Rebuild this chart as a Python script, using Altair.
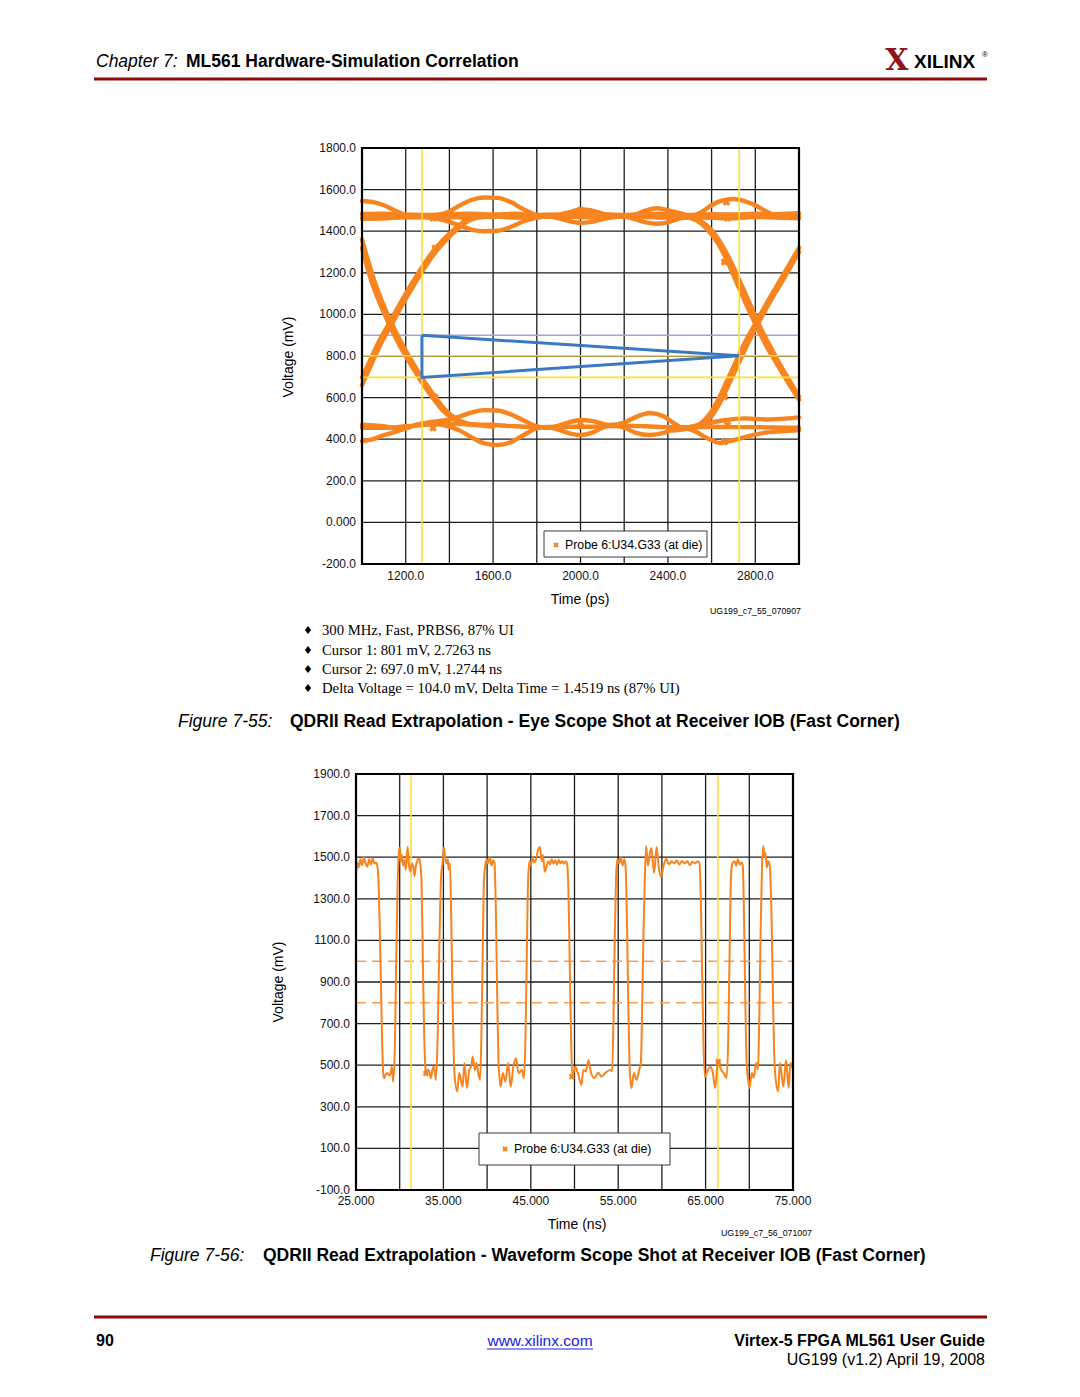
import altair as alt
import pandas as pd

FONT = "Liberation Sans"
SERIF = "Liberation Serif"
ORANGE = "#F7841F"
YELLOW = "#FFE02A"
BLUE = "#3B78C3"
LAVENDER = "#A3A3D6"
GRID = "#1E1E1E"
MAROON = "#8E1318"

# ---------------- Figure 7-55 : eye diagram ----------------
eye_x_ticks = [1200, 1600, 2000, 2400, 2800]
eye_x_labels = ["1200.0", "1600.0", "2000.0", "2400.0", "2800.0"]
eye_y_ticks = [-200, 0, 200, 400, 600, 800, 1000, 1200, 1400, 1600, 1800]
eye_y_labels = ["-200.0", "0.000", "200.0", "400.0", "600.0", "800.0",
                "1000.0", "1200.0", "1400.0", "1600.0", "1800.0"]
eye_grid_t = [1000, 1200, 1400, 1600, 1800, 2000, 2200, 2400, 2600, 2800, 3000]
eye_grid_v = [-200, 0, 200, 400, 600, 800, 1000, 1200, 1400, 1600, 1800]

eye_cursor_t = [1274.4, 2726.3]          # Cursor 2, Cursor 1 (ps)
eye_cursor_v = [697.0, 801.0]            # Cursor 2, Cursor 1 (mV)
eye_ref_v = [900.0]
eye_mask_t = [1274.4, 1274.4, 2726.3, 1274.4]
eye_mask_v = [900.0, 697.0, 801.0, 900.0]

# high-level traces
ha_t = [1000, 1050, 1100, 1150, 1200, 1250, 1300, 1350, 1400, 1450, 1500, 1560, 1620, 1680, 1740,
        1800, 1850, 1900, 1950, 2000, 2050, 2100, 2150, 2200, 2250, 2300, 2350, 2400, 2450, 2500,
        2550, 2600, 2650, 2700, 2750, 2800, 2850, 2900, 2950, 3000]
ha_v = [1545, 1540, 1525, 1500, 1478, 1468, 1470, 1478, 1495, 1525, 1550, 1562, 1560, 1540, 1505,
        1478, 1470, 1478, 1492, 1505, 1500, 1485, 1475, 1470, 1480, 1500, 1510, 1500, 1480, 1472,
        1490, 1525, 1548, 1555, 1545, 1525, 1495, 1475, 1470, 1470]
hb_t = [1000, 1100, 1200, 1300, 1400, 1500, 1600, 1700, 1800, 1900, 2000, 2100, 2200, 2300, 2400,
        2500, 2600, 2700, 2800, 2900, 3000]
hb_v = [1462, 1465, 1468, 1470, 1468, 1466, 1470, 1466, 1468, 1470, 1468, 1466, 1470, 1468, 1466,
        1468, 1466, 1468, 1468, 1466, 1462]
hb2_v = [1482, 1484, 1480, 1478, 1482, 1484, 1480, 1484, 1478, 1480, 1486, 1482, 1478, 1484, 1482,
         1478, 1482, 1480, 1484, 1482, 1486]
hc_t = [1000, 1100, 1200, 1300, 1400, 1450, 1500, 1560, 1620, 1680, 1740, 1800, 1850, 1900, 1950,
        2000, 2050, 2100, 2150, 2200, 2250, 2300, 2350, 2400, 2450, 2500, 2600, 2700, 2800, 2900, 3000]
hc_v = [1460, 1462, 1468, 1466, 1445, 1425, 1408, 1400, 1402, 1420, 1448, 1465, 1470, 1462, 1448,
        1440, 1445, 1458, 1468, 1470, 1458, 1442, 1436, 1442, 1460, 1468, 1465, 1462, 1470, 1468, 1465]
# falling / rising edges on the right
fr1_t = [2400, 2480, 2530, 2580, 2630, 2670, 2720, 2760, 2800, 2850, 2900, 2950, 3000]
fr1_v = [1470, 1468, 1452, 1410, 1340, 1260, 1140, 1045, 955, 850, 760, 672, 590]
fr2_t = [2400, 2500, 2550, 2600, 2650, 2690, 2740, 2780, 2815, 2860, 2910, 2960, 3000]
fr2_v = [1500, 1472, 1450, 1405, 1330, 1250, 1135, 1040, 955, 862, 765, 676, 605]
rr1_t = [2400, 2500, 2540, 2590, 2630, 2670, 2710, 2750, 2800, 2850, 2900, 2950, 3000]
rr1_v = [458, 458, 470, 520, 590, 680, 770, 860, 955, 1050, 1140, 1230, 1320]
rr2_t = [2400, 2510, 2555, 2605, 2645, 2685, 2725, 2765, 2812, 2862, 2912, 2962, 3000]
rr2_v = [440, 455, 468, 518, 588, 678, 768, 858, 955, 1050, 1140, 1230, 1300]
# rising / falling edges on the left
rl1_t = [1000, 1033, 1073, 1123, 1173, 1223, 1273, 1323, 1373, 1423, 1473, 1523, 1600]
rl1_v = [696, 770, 860, 955, 1050, 1140, 1225, 1300, 1360, 1410, 1450, 1468, 1470]
rl2_t = [1000, 1047, 1087, 1137, 1187, 1237, 1287, 1337, 1387, 1437, 1487, 1537, 1600]
rl2_v = [660, 770, 860, 955, 1050, 1140, 1225, 1300, 1360, 1410, 1450, 1468, 1480]
fl1_t = [1000, 1043, 1083, 1123, 1173, 1223, 1273, 1323, 1373, 1423, 1473, 1523, 1600]
fl1_v = [1320, 1160, 1050, 955, 850, 760, 675, 600, 535, 495, 475, 468, 470]
fl2_t = [1000, 1057, 1097, 1137, 1187, 1237, 1287, 1337, 1387, 1437, 1487, 1537, 1600]
fl2_v = [1360, 1160, 1050, 955, 850, 760, 675, 600, 535, 495, 475, 468, 460]
# low-level traces
la_t = [1000, 1100, 1174, 1250, 1300, 1400, 1450, 1500, 1560, 1620, 1680, 1740, 1800, 1850, 1900,
        1950, 2000, 2050, 2100, 2134, 2200, 2250, 2317, 2380, 2430, 2467, 2550, 2650, 2750, 2850,
        2950, 3000]
la_v = [470, 462, 450, 468, 480, 495, 510, 528, 540, 538, 520, 490, 462, 455, 465,
        482, 492, 488, 475, 468, 480, 505, 526, 510, 475, 455, 470, 490, 500, 495,
        500, 505]
lb_t = [1000, 1100, 1200, 1300, 1400, 1500, 1600, 1700, 1800, 1900, 2000, 2100, 2200, 2300, 2400,
        2500, 2600, 2700, 2800, 2900, 3000]
lb_v = [455, 455, 462, 470, 475, 470, 468, 462, 458, 460, 460, 462, 465, 462, 458,
        456, 460, 458, 458, 456, 455]
lc_t = [1000, 1050, 1100, 1174, 1250, 1300, 1400, 1450, 1500, 1560, 1620, 1680, 1740, 1800, 1850,
        1900, 1950, 2000, 2050, 2100, 2134, 2200, 2250, 2317, 2380, 2430, 2467, 2520, 2580, 2638,
        2700, 2788, 2850, 2950, 3000]
lc_v = [390, 400, 420, 442, 470, 478, 460, 440, 410, 380, 372, 385, 420, 452, 458,
        445, 428, 420, 430, 455, 468, 455, 432, 420, 430, 450, 455, 440, 405, 382,
        395, 420, 432, 440, 444]

eye_mark_t = [1325, 1334, 2000, 2668, 2673, 2659, 2000, 2659, 2673, 2659, 1325, 1334]
eye_mark_v = [1463, 1319, 1502, 1540, 1463, 1252, 478, 387, 468, 603, 454, 603]

# ---------------- Figure 7-56 : waveform ----------------
wave_x_ticks = [25, 35, 45, 55, 65, 75]
wave_x_labels = ["25.000", "35.000", "45.000", "55.000", "65.000", "75.000"]
wave_y_ticks = [-100, 100, 300, 500, 700, 900, 1100, 1300, 1500, 1700, 1900]
wave_y_labels = ["-100.0", "100.0", "300.0", "500.0", "700.0", "900.0",
                 "1100.0", "1300.0", "1500.0", "1700.0", "1900.0"]
wave_grid_t = [25, 30, 35, 40, 45, 50, 55, 60, 65, 70, 75]
wave_grid_v = [-100, 100, 300, 500, 700, 900, 1100, 1300, 1500, 1700, 1900]
wave_cursor_t = [31.3, 66.4]
wave_thresh_v = [800, 1000]
wave_points = [
    (25.0, 1410), (25.15, 1475), (25.3, 1450), (25.5, 1490), (25.7, 1462), (25.9, 1500),
    (26.1, 1470), (26.3, 1455), (26.5, 1490), (26.7, 1465), (26.9, 1495), (27.1, 1470), (27.3, 1475),
    (27.5, 1440), (27.7, 1200), (27.85, 900), (28.0, 600), (28.1, 470),
    (28.2, 437), (28.4, 455), (28.6, 462), (28.8, 450), (29.0, 470), (29.1, 493), (29.25, 421),
    (29.45, 600), (29.6, 1000), (29.75, 1350), (29.9, 1520),
    (30.0, 1545), (30.1, 1480), (30.25, 1510), (30.4, 1460), (30.55, 1485), (30.7, 1440), (30.9, 1550),
    (31.05, 1470), (31.2, 1430), (31.4, 1470), (31.55, 1455), (31.7, 1410), (31.85, 1460), (32.0, 1480),
    (32.2, 1495), (32.35, 1470),
    (32.5, 1380), (32.65, 1000), (32.8, 650), (32.95, 480),
    (33.0, 462), (33.2, 478), (33.4, 470), (33.55, 437), (33.75, 480), (33.9, 493), (34.05, 460), (34.15, 429),
    (34.35, 650), (34.55, 1100), (34.75, 1420),
    (34.9, 1470), (35.05, 1545), (35.2, 1500), (35.35, 1470), (35.5, 1490), (35.6, 1440), (35.75, 1470),
    (35.9, 1200), (36.05, 800), (36.2, 520),
    (36.35, 420), (36.6, 374), (36.8, 462), (37.0, 430), (37.2, 397), (37.4, 510), (37.7, 390), (37.95, 477),
    (38.2, 500), (38.35, 542), (38.6, 477), (38.8, 510), (39.0, 460), (39.2, 429),
    (39.35, 650), (39.5, 1050), (39.65, 1400),
    (39.8, 1465), (39.95, 1490), (40.1, 1470), (40.3, 1500), (40.5, 1460), (40.7, 1485), (40.85, 1470),
    (41.0, 1250), (41.15, 850), (41.3, 520),
    (41.45, 430), (41.55, 397), (41.8, 462), (42.1, 421), (42.4, 510), (42.7, 397), (43.0, 493),
    (43.3, 534), (43.6, 462), (44.0, 477), (44.2, 437),
    (44.4, 650), (44.55, 1050), (44.7, 1400),
    (44.85, 1480), (45.0, 1460), (45.2, 1500), (45.4, 1475), (45.6, 1490), (45.8, 1530), (46.05, 1549),
    (46.25, 1480), (46.4, 1510), (46.6, 1430), (46.8, 1455), (47.0, 1480), (47.2, 1465), (47.4, 1490),
    (47.6, 1470), (47.8, 1485), (48.0, 1465), (48.2, 1488), (48.4, 1470), (48.6, 1482), (48.8, 1468),
    (49.0, 1480), (49.15, 1470),
    (49.3, 1350), (49.45, 1000), (49.6, 650),
    (49.75, 445), (50.1, 493), (50.4, 460), (50.8, 405), (51.0, 477), (51.3, 470), (51.6, 525), (51.9, 462),
    (52.3, 438), (52.7, 464), (53.1, 445), (53.5, 462), (54.1, 477), (54.3, 470),
    (54.45, 700), (54.6, 1100), (54.75, 1400),
    (54.9, 1490), (55.1, 1470), (55.3, 1500), (55.5, 1460), (55.7, 1490), (55.85, 1448),
    (56.0, 1200), (56.15, 800), (56.3, 500),
    (56.5, 390), (56.8, 462), (57.1, 430), (57.35, 470), (57.6, 517),
    (57.75, 800), (57.9, 1150), (58.05, 1400),
    (58.2, 1554), (58.4, 1460), (58.55, 1500), (58.8, 1544), (59.1, 1424), (59.4, 1549), (59.65, 1450),
    (59.9, 1406), (60.2, 1460), (60.5, 1493), (60.8, 1465), (61.1, 1480), (61.4, 1470), (61.7, 1485),
    (62.0, 1465), (62.3, 1482), (62.6, 1470), (62.9, 1480), (63.2, 1462), (63.5, 1478), (63.8, 1470),
    (64.1, 1480), (64.3, 1470),
    (64.45, 1300), (64.6, 950), (64.75, 620),
    (64.9, 445), (65.2, 470), (65.5, 493), (65.8, 470), (66.1, 390), (66.4, 517), (66.8, 477), (67.1, 460),
    (67.4, 438),
    (67.6, 650), (67.75, 1050), (67.9, 1400),
    (68.05, 1470), (68.3, 1480), (68.5, 1460), (68.7, 1490), (68.9, 1465), (69.1, 1475), (69.25, 1460),
    (69.4, 1200), (69.55, 800), (69.7, 500),
    (69.9, 420), (70.0, 390), (70.3, 462), (70.5, 440), (70.8, 510), (71.0, 478),
    (71.15, 750), (71.3, 1150), (71.45, 1450),
    (71.6, 1554), (71.75, 1500), (71.85, 1520), (72.0, 1450), (72.15, 1480), (72.3, 1470), (72.4, 1420),
    (72.55, 1200), (72.7, 850), (72.85, 550),
    (73.0, 440), (73.3, 374), (73.5, 510), (73.9, 397), (74.2, 525), (74.5, 390), (74.7, 510), (75.0, 478),
]
wave_mark_t = [33.0, 49.7, 66.45]
wave_mark_v = [461, 445, 517]

# ---------------- build tables ----------------
eye_traces = {
    "ha": (ha_t, ha_v), "hb": (hb_t, hb_v), "hb2": (hb_t, hb2_v), "hc": (hc_t, hc_v),
    "fr1": (fr1_t, fr1_v), "fr2": (fr2_t, fr2_v), "rr1": (rr1_t, rr1_v), "rr2": (rr2_t, rr2_v),
    "rl1": (rl1_t, rl1_v), "rl2": (rl2_t, rl2_v), "fl1": (fl1_t, fl1_v), "fl2": (fl2_t, fl2_v),
    "la": (la_t, la_v), "lb": (lb_t, lb_v), "lc": (lc_t, lc_v),
}
rows = []
for name, (ts, vs) in eye_traces.items():
    for i, (t, v) in enumerate(zip(ts, vs)):
        rows.append({"trace": name, "i": i, "t": t, "v": v})
eye_df = pd.DataFrame(rows)
wave_df = pd.DataFrame([{"i": i, "t": t, "v": v} for i, (t, v) in enumerate(wave_points)])
dummy = pd.DataFrame({"d": [0]})

# plot areas (pixels inside the page, page margin of 8 removed)
eye_xs = alt.Scale(domain=[1000, 3000], range=[354, 791])
eye_ys = alt.Scale(domain=[-200, 1800], range=[556, 140])
wave_xs = alt.Scale(domain=[25, 75], range=[348, 785])
wave_ys = alt.Scale(domain=[-100, 1900], range=[1182, 766])


def text(s, x, y, size=12, font=FONT, weight="normal", style="normal", align="left",
         color="black", angle=0, baseline="middle"):
    return alt.Chart(dummy).mark_text(
        text=s, fontSize=size, font=font, fontWeight=weight, fontStyle=style,
        align=align, baseline=baseline, color=color, angle=angle
    ).encode(x=alt.value(x), y=alt.value(y))


def hrule(x, x2, y, color, width):
    return alt.Chart(dummy).mark_rule(color=color, strokeWidth=width).encode(
        x=alt.value(x), x2=alt.value(x2), y=alt.value(y))


def box(x, x2, y, y2):
    return alt.Chart(dummy).mark_rect(fill="white", stroke="#3a3a3a", strokeWidth=1).encode(
        x=alt.value(x), x2=alt.value(x2), y=alt.value(y), y2=alt.value(y2))


def legend_cross(x, y):
    return alt.Chart(dummy).mark_point(shape="cross", angle=45, filled=True, size=30,
                                       color=ORANGE, opacity=1).encode(
        x=alt.value(x), y=alt.value(y))


def plot_layers(xs, ys, grid_t, grid_v, x0, x1, y0, y1, xticks, xlabels, yticks, ylabels,
                ylab_x, xlab_y):
    vgrid = alt.Chart(pd.DataFrame({"g": grid_t})).mark_rule(color=GRID, strokeWidth=1.3).encode(
        x=alt.X("g:Q", scale=xs, axis=None),
        y=alt.YDatum(y0, scale=ys, axis=None), y2=alt.Y2Datum(y1))
    hgrid = alt.Chart(pd.DataFrame({"g": grid_v})).mark_rule(color=GRID, strokeWidth=1.3).encode(
        y=alt.Y("g:Q", scale=ys, axis=None),
        x=alt.XDatum(x0, scale=xs, axis=None), x2=alt.X2Datum(x1))
    frame = alt.Chart(dummy).mark_rect(filled=False, stroke="black", strokeWidth=2.2).encode(
        x=alt.XDatum(x0, scale=xs, axis=None), x2=alt.X2Datum(x1),
        y=alt.YDatum(y0, scale=ys, axis=None), y2=alt.Y2Datum(y1))
    xl = alt.Chart(pd.DataFrame({"tick": xticks, "label": xlabels})).mark_text(
        font=FONT, fontSize=12, baseline="middle", align="center", color="#111").encode(
        x=alt.X("tick:Q", scale=xs, axis=None), y=alt.value(xlab_y), text="label:N")
    yl = alt.Chart(pd.DataFrame({"tick": yticks, "label": ylabels})).mark_text(
        font=FONT, fontSize=12, baseline="middle", align="right", color="#111").encode(
        y=alt.Y("tick:Q", scale=ys, axis=None), x=alt.value(ylab_x), text="label:N")
    return vgrid, hgrid, frame, xl, yl


# ---------------- eye layer ----------------
e_vgrid, e_hgrid, e_frame, e_xl, e_yl = plot_layers(
    eye_xs, eye_ys, eye_grid_t, eye_grid_v, 1000, 3000, -200, 1800,
    eye_x_ticks, eye_x_labels, eye_y_ticks, eye_y_labels, 348, 568)

e_ref = alt.Chart(pd.DataFrame({"v": eye_ref_v})).mark_rule(color=LAVENDER, strokeWidth=1.6).encode(
    y=alt.Y("v:Q", scale=eye_ys, axis=None),
    x=alt.XDatum(1000, scale=eye_xs, axis=None), x2=alt.X2Datum(3000))
e_lines = alt.Chart(eye_df).mark_line(color=ORANGE, strokeWidth=4.4, interpolate="monotone",
                                      strokeCap="round", strokeJoin="round").encode(
    x=alt.X("t:Q", scale=eye_xs, axis=None), y=alt.Y("v:Q", scale=eye_ys, axis=None),
    detail="trace:N", order="i:Q")
e_marks = alt.Chart(pd.DataFrame({"t": eye_mark_t, "v": eye_mark_v})).mark_point(
    shape="cross", angle=45, filled=True, size=60, color=ORANGE, opacity=1).encode(
    x=alt.X("t:Q", scale=eye_xs, axis=None), y=alt.Y("v:Q", scale=eye_ys, axis=None))
e_cur_v = alt.Chart(pd.DataFrame({"t": eye_cursor_t})).mark_rule(color=YELLOW, strokeWidth=1.6).encode(
    x=alt.X("t:Q", scale=eye_xs, axis=None),
    y=alt.YDatum(-200, scale=eye_ys, axis=None), y2=alt.Y2Datum(1800))
e_cur_h = alt.Chart(pd.DataFrame({"v": eye_cursor_v})).mark_rule(color=YELLOW, strokeWidth=1.6).encode(
    y=alt.Y("v:Q", scale=eye_ys, axis=None),
    x=alt.XDatum(1000, scale=eye_xs, axis=None), x2=alt.X2Datum(3000))
e_mask = alt.Chart(pd.DataFrame({"i": [0, 1, 2, 3], "t": eye_mask_t, "v": eye_mask_v})).mark_line(
    color=BLUE, strokeWidth=3, strokeJoin="miter").encode(
    x=alt.X("t:Q", scale=eye_xs, axis=None), y=alt.Y("v:Q", scale=eye_ys, axis=None), order="i:Q")

eye_layer = alt.layer(
    e_vgrid, e_hgrid, e_ref, e_lines, e_marks, e_cur_v, e_cur_h, e_mask, e_frame, e_xl, e_yl,
    box(536, 699, 523, 549), legend_cross(548, 537),
    text("Probe 6:U34.G33 (at die)", 557, 537, size=12.3),
    text("Voltage (mV)", 281, 349, size=14, angle=270, align="center"),
    text("Time (ps)", 572, 592, size=14, align="center"),
    text("UG199_c7_55_070907", 793, 603, size=8.8, align="right"),
)

# ---------------- waveform layer ----------------
w_vgrid, w_hgrid, w_frame, w_xl, w_yl = plot_layers(
    wave_xs, wave_ys, wave_grid_t, wave_grid_v, 25, 75, -100, 1900,
    wave_x_ticks, wave_x_labels, wave_y_ticks, wave_y_labels, 342, 1193)

w_thresh = alt.Chart(pd.DataFrame({"v": wave_thresh_v})).mark_rule(
    color="#F7A055", strokeWidth=1.5, strokeDash=[10, 6]).encode(
    y=alt.Y("v:Q", scale=wave_ys, axis=None),
    x=alt.XDatum(25, scale=wave_xs, axis=None), x2=alt.X2Datum(75))
w_cur = alt.Chart(pd.DataFrame({"t": wave_cursor_t})).mark_rule(color=YELLOW, strokeWidth=1.6).encode(
    x=alt.X("t:Q", scale=wave_xs, axis=None),
    y=alt.YDatum(-100, scale=wave_ys, axis=None), y2=alt.Y2Datum(1900))
w_line = alt.Chart(wave_df).mark_line(color=ORANGE, strokeWidth=2, interpolate="monotone").encode(
    x=alt.X("t:Q", scale=wave_xs, axis=None), y=alt.Y("v:Q", scale=wave_ys, axis=None), order="i:Q")
w_marks = alt.Chart(pd.DataFrame({"t": wave_mark_t, "v": wave_mark_v})).mark_point(
    shape="cross", angle=45, filled=True, size=40, color=ORANGE, opacity=1).encode(
    x=alt.X("t:Q", scale=wave_xs, axis=None), y=alt.Y("v:Q", scale=wave_ys, axis=None))

wave_layer = alt.layer(
    w_vgrid, w_hgrid, w_thresh, w_cur, w_line, w_marks, w_frame, w_xl, w_yl,
    box(471, 662, 1125, 1157), legend_cross(497, 1141),
    text("Probe 6:U34.G33 (at die)", 506, 1141, size=12.3),
    text("Voltage (mV)", 271, 974, size=14, angle=270, align="center"),
    text("Time (ns)", 569, 1217, size=14, align="center"),
    text("UG199_c7_56_071007", 804, 1225, size=8.8, align="right"),
)

# ---------------- page furniture ----------------
bullets = [
    "300 MHz, Fast, PRBS6, 87% UI",
    "Cursor 1: 801 mV, 2.7263 ns",
    "Cursor 2: 697.0 mV, 1.2744 ns",
    "Delta Voltage = 104.0 mV, Delta Time = 1.4519 ns (87% UI)",
]
bullet_y = [623, 643, 662, 681]

page_items = [
    text("Chapter 7:", 88, 54, size=17.5, style="italic"),
    text("ML561 Hardware-Simulation Correlation", 178, 54, size=17.5, weight="bold"),
    text("X", 889, 53, size=30, font="DejaVu Serif", weight="bold", color=MAROON, align="center"),
    text("XILINX", 906, 54, size=19, weight="bold"),
    text("®", 974, 47, size=8),
    hrule(86, 979, 71, "#8B0A0A", 3),
    text("Figure 7-55:", 170, 714, size=17.5, style="italic"),
    text("QDRII Read Extrapolation - Eye Scope Shot at Receiver IOB (Fast Corner)", 282, 714,
         size=17.5, weight="bold"),
    text("Figure 7-56:", 142, 1248, size=17.5, style="italic"),
    text("QDRII Read Extrapolation - Waveform Scope Shot at Receiver IOB (Fast Corner)", 255, 1248,
         size=17.5, weight="bold"),
    hrule(86, 979, 1309, "#8B0A0A", 3),
    text("90", 88, 1333, size=16, weight="bold"),
    text("www.xilinx.com", 532, 1333, size=15.5, color="#2020E0", align="center"),
    hrule(479, 585, 1341, "#2020E0", 1),
    text("Virtex-5 FPGA ML561 User Guide", 977, 1333, size=16, weight="bold", align="right"),
    text("UG199 (v1.2) April 19, 2008", 977, 1352, size=16, align="right"),
]
for s, y in zip(bullets, bullet_y):
    page_items.append(text("\u2666", 300, y, size=11, font="DejaVu Sans", align="center"))
    page_items.append(text(s, 314, y, size=14.7, font=SERIF))

page_layer = alt.layer(*page_items)

chart = alt.layer(eye_layer, wave_layer, page_layer).resolve_scale(
    x="independent", y="independent"
).properties(width=1064, height=1381, padding=0, background="white").configure_view(strokeWidth=0)

chart.save("out.html", embed_options={"renderer": "svg", "actions": False})
